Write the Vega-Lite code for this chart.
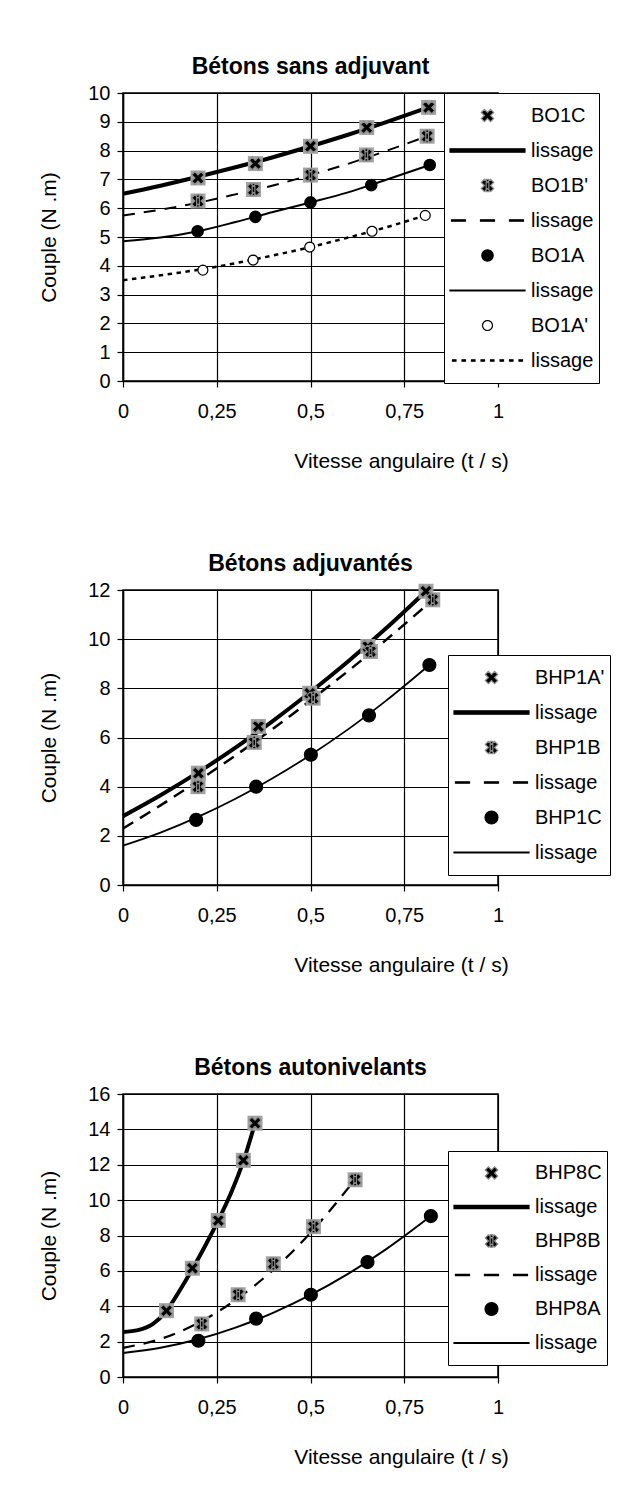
{
  "$schema": "https://vega.github.io/schema/vega-lite/v6.json",
  "padding": {"left": 38, "top": 55, "right": 5, "bottom": 5},
  "background": "white",
  "spacing": 80,
  "config": {
    "font": "Liberation Sans",
    "view": {"stroke": "black", "strokeWidth": 1.5},
    "title": {"font": "Liberation Sans", "fontSize": 23, "fontWeight": "bold", "color": "black", "offset": 4, "anchor": "middle"},
    "axis": {"labelFont": "Liberation Sans", "titleFont": "Liberation Sans", "labelFontSize": 20, "titleFontSize": 21, "titleFontWeight": "normal", "labelColor": "black", "titleColor": "black", "domainColor": "black", "tickColor": "black", "gridColor": "black", "gridOpacity": 1, "gridWidth": 1.2, "domainWidth": 1.5, "tickWidth": 1.2, "tickSize": 6, "labelFlush": false, "labelOverlap": false},
    "axisX": {"labelPadding": 14, "titleX": 278, "titleY": 69},
    "axisY": {"labelPadding": 7, "titlePadding": 28},
    "legend": {"labelFont": "Liberation Sans", "labelFontSize": 20, "labelColor": "black", "labelOffset": 5, "rowPadding": 0, "padding": 5, "strokeColor": "black", "labelLimit": 300, "symbolSize": 5625, "symbolStrokeWidth": 1.2}
  },
  "datasets": {
    "pts1": [
      {"k": "BO1C", "x": 0.20, "y": 7.05}, {"k": "BO1C", "x": 0.353, "y": 7.55}, {"k": "BO1C", "x": 0.50, "y": 8.15}, {"k": "BO1C", "x": 0.65, "y": 8.8}, {"k": "BO1C", "x": 0.815, "y": 9.5},
      {"k": "BO1B'", "x": 0.20, "y": 6.25}, {"k": "BO1B'", "x": 0.348, "y": 6.65}, {"k": "BO1B'", "x": 0.50, "y": 7.15}, {"k": "BO1B'", "x": 0.649, "y": 7.85}, {"k": "BO1B'", "x": 0.811, "y": 8.5},
      {"k": "BO1A", "x": 0.199, "y": 5.2}, {"k": "BO1A", "x": 0.353, "y": 5.7}, {"k": "BO1A", "x": 0.50, "y": 6.2}, {"k": "BO1A", "x": 0.662, "y": 6.8}, {"k": "BO1A", "x": 0.818, "y": 7.5},
      {"k": "BO1A'", "x": 0.213, "y": 3.85}, {"k": "BO1A'", "x": 0.347, "y": 4.2}, {"k": "BO1A'", "x": 0.498, "y": 4.65}, {"k": "BO1A'", "x": 0.664, "y": 5.2}, {"k": "BO1A'", "x": 0.806, "y": 5.75}
    ],
    "fit1": [
      {"k": "lissage1", "x": 0, "y": 6.5}, {"k": "lissage1", "x": 0.1, "y": 6.78}, {"k": "lissage1", "x": 0.2, "y": 7.09}, {"k": "lissage1", "x": 0.3, "y": 7.42}, {"k": "lissage1", "x": 0.4, "y": 7.77}, {"k": "lissage1", "x": 0.5, "y": 8.15}, {"k": "lissage1", "x": 0.6, "y": 8.55}, {"k": "lissage1", "x": 0.7, "y": 8.98}, {"k": "lissage1", "x": 0.815, "y": 9.5},
      {"k": "lissage2", "x": 0, "y": 5.75}, {"k": "lissage2", "x": 0.1, "y": 5.95}, {"k": "lissage2", "x": 0.2, "y": 6.19}, {"k": "lissage2", "x": 0.3, "y": 6.48}, {"k": "lissage2", "x": 0.4, "y": 6.79}, {"k": "lissage2", "x": 0.5, "y": 7.15}, {"k": "lissage2", "x": 0.6, "y": 7.54}, {"k": "lissage2", "x": 0.7, "y": 7.98}, {"k": "lissage2", "x": 0.811, "y": 8.5},
      {"k": "lissage3", "x": 0, "y": 4.85}, {"k": "lissage3", "x": 0.1, "y": 4.98}, {"k": "lissage3", "x": 0.2, "y": 5.2}, {"k": "lissage3", "x": 0.3, "y": 5.52}, {"k": "lissage3", "x": 0.4, "y": 5.87}, {"k": "lissage3", "x": 0.5, "y": 6.2}, {"k": "lissage3", "x": 0.6, "y": 6.55}, {"k": "lissage3", "x": 0.7, "y": 6.98}, {"k": "lissage3", "x": 0.818, "y": 7.5},
      {"k": "lissage4", "x": 0, "y": 3.5}, {"k": "lissage4", "x": 0.1, "y": 3.67}, {"k": "lissage4", "x": 0.2, "y": 3.86}, {"k": "lissage4", "x": 0.3, "y": 4.09}, {"k": "lissage4", "x": 0.4, "y": 4.36}, {"k": "lissage4", "x": 0.5, "y": 4.65}, {"k": "lissage4", "x": 0.6, "y": 4.98}, {"k": "lissage4", "x": 0.7, "y": 5.33}, {"k": "lissage4", "x": 0.806, "y": 5.75}
    ],
    "pts2": [
      {"k": "BHP1A'", "x": 0.201, "y": 4.55}, {"k": "BHP1A'", "x": 0.361, "y": 6.45}, {"k": "BHP1A'", "x": 0.498, "y": 7.8}, {"k": "BHP1A'", "x": 0.653, "y": 9.7}, {"k": "BHP1A'", "x": 0.808, "y": 11.95},
      {"k": "BHP1B", "x": 0.20, "y": 4.0}, {"k": "BHP1B", "x": 0.35, "y": 5.8}, {"k": "BHP1B", "x": 0.507, "y": 7.6}, {"k": "BHP1B", "x": 0.66, "y": 9.5}, {"k": "BHP1B", "x": 0.826, "y": 11.6},
      {"k": "BHP1C", "x": 0.195, "y": 2.65}, {"k": "BHP1C", "x": 0.355, "y": 4.0}, {"k": "BHP1C", "x": 0.501, "y": 5.3}, {"k": "BHP1C", "x": 0.656, "y": 6.9}, {"k": "BHP1C", "x": 0.817, "y": 8.95}
    ],
    "fit2": [
      {"k": "lissage1", "x": 0, "y": 2.8}, {"k": "lissage1", "x": 0.1, "y": 3.65}, {"k": "lissage1", "x": 0.2, "y": 4.58}, {"k": "lissage1", "x": 0.3, "y": 5.59}, {"k": "lissage1", "x": 0.4, "y": 6.68}, {"k": "lissage1", "x": 0.5, "y": 7.85}, {"k": "lissage1", "x": 0.6, "y": 9.09}, {"k": "lissage1", "x": 0.7, "y": 10.42}, {"k": "lissage1", "x": 0.808, "y": 11.95},
      {"k": "lissage2", "x": 0, "y": 2.3}, {"k": "lissage2", "x": 0.1, "y": 3.24}, {"k": "lissage2", "x": 0.2, "y": 4.23}, {"k": "lissage2", "x": 0.3, "y": 5.27}, {"k": "lissage2", "x": 0.4, "y": 6.36}, {"k": "lissage2", "x": 0.5, "y": 7.51}, {"k": "lissage2", "x": 0.6, "y": 8.7}, {"k": "lissage2", "x": 0.7, "y": 9.95}, {"k": "lissage2", "x": 0.826, "y": 11.6},
      {"k": "lissage3", "x": 0, "y": 1.6}, {"k": "lissage3", "x": 0.1, "y": 2.13}, {"k": "lissage3", "x": 0.2, "y": 2.77}, {"k": "lissage3", "x": 0.3, "y": 3.51}, {"k": "lissage3", "x": 0.4, "y": 4.35}, {"k": "lissage3", "x": 0.5, "y": 5.29}, {"k": "lissage3", "x": 0.6, "y": 6.33}, {"k": "lissage3", "x": 0.7, "y": 7.48}, {"k": "lissage3", "x": 0.817, "y": 8.95}
    ],
    "pts3": [
      {"k": "BHP8C", "x": 0.116, "y": 3.75}, {"k": "BHP8C", "x": 0.185, "y": 6.15}, {"k": "BHP8C", "x": 0.254, "y": 8.85}, {"k": "BHP8C", "x": 0.321, "y": 12.25}, {"k": "BHP8C", "x": 0.352, "y": 14.35},
      {"k": "BHP8B", "x": 0.21, "y": 3.0}, {"k": "BHP8B", "x": 0.307, "y": 4.65}, {"k": "BHP8B", "x": 0.401, "y": 6.4}, {"k": "BHP8B", "x": 0.508, "y": 8.5}, {"k": "BHP8B", "x": 0.619, "y": 11.15},
      {"k": "BHP8A", "x": 0.201, "y": 2.05}, {"k": "BHP8A", "x": 0.355, "y": 3.3}, {"k": "BHP8A", "x": 0.501, "y": 4.65}, {"k": "BHP8A", "x": 0.652, "y": 6.5}, {"k": "BHP8A", "x": 0.821, "y": 9.1}
    ],
    "fit3": [
      {"k": "lissage1", "x": 0, "y": 2.55}, {"k": "lissage1", "x": 0.04, "y": 2.65}, {"k": "lissage1", "x": 0.08, "y": 3.0}, {"k": "lissage1", "x": 0.116, "y": 3.75}, {"k": "lissage1", "x": 0.15, "y": 4.85}, {"k": "lissage1", "x": 0.185, "y": 6.1}, {"k": "lissage1", "x": 0.22, "y": 7.45}, {"k": "lissage1", "x": 0.254, "y": 8.85}, {"k": "lissage1", "x": 0.29, "y": 10.5}, {"k": "lissage1", "x": 0.321, "y": 12.2}, {"k": "lissage1", "x": 0.352, "y": 14.35},
      {"k": "lissage2", "x": 0, "y": 1.65}, {"k": "lissage2", "x": 0.1, "y": 2.15}, {"k": "lissage2", "x": 0.2, "y": 3.05}, {"k": "lissage2", "x": 0.3, "y": 4.35}, {"k": "lissage2", "x": 0.4, "y": 6.05}, {"k": "lissage2", "x": 0.5, "y": 8.15}, {"k": "lissage2", "x": 0.619, "y": 11.17},
      {"k": "lissage3", "x": 0, "y": 1.35}, {"k": "lissage3", "x": 0.1, "y": 1.65}, {"k": "lissage3", "x": 0.2, "y": 2.13}, {"k": "lissage3", "x": 0.3, "y": 2.79}, {"k": "lissage3", "x": 0.4, "y": 3.63}, {"k": "lissage3", "x": 0.5, "y": 4.64}, {"k": "lissage3", "x": 0.6, "y": 5.83}, {"k": "lissage3", "x": 0.7, "y": 7.2}, {"k": "lissage3", "x": 0.821, "y": 9.1}
    ]
  },
  "resolve": {"scale": {"shape": "independent", "fill": "independent", "stroke": "independent"}},
  "vconcat": [
    {
      "width": 375, "height": 288,
      "title": "Bétons sans adjuvant",
      "encoding": {
        "x": {"field": "x", "type": "quantitative", "scale": {"domain": [0, 1], "nice": false}, "axis": {"values": [0, 0.25, 0.5, 0.75, 1], "title": "Vitesse angulaire (t / s)", "labelExpr": "replace(toString(datum.value),'.',',')"}},
        "y": {"field": "y", "type": "quantitative", "scale": {"domain": [0, 10], "nice": false}, "axis": {"values": [0, 1, 2, 3, 4, 5, 6, 7, 8, 9, 10], "title": "Couple (N .m)"}}
      },
      "layer": [
        {"data": {"name": "fit1"}, "transform": [{"filter": "datum.k==='lissage1'"}], "mark": {"type": "line", "color": "black", "strokeWidth": 4, "interpolate": "monotone"}},
        {"data": {"name": "fit1"}, "transform": [{"filter": "datum.k==='lissage2'"}], "mark": {"type": "line", "color": "black", "strokeWidth": 2, "strokeDash": [12, 9], "interpolate": "monotone"}},
        {"data": {"name": "fit1"}, "transform": [{"filter": "datum.k==='lissage3'"}], "mark": {"type": "line", "color": "black", "strokeWidth": 2, "interpolate": "monotone"}},
        {"data": {"name": "fit1"}, "transform": [{"filter": "datum.k==='lissage4'"}], "mark": {"type": "line", "color": "black", "strokeWidth": 2.5, "strokeDash": [4.5, 4.5], "interpolate": "monotone"}},
        {"data": {"name": "pts1"}, "transform": [{"filter": {"field": "k", "oneOf": ["BO1C", "BO1B'"]}}], "mark": {"type": "point", "shape": "square", "filled": true, "color": "#a3a3a3", "size": 225, "opacity": 1}},
        {"data": {"name": "pts1"}, "mark": {"type": "point", "filled": true, "opacity": 1, "size": 5625, "strokeWidth": 1.2},
         "encoding": {
           "shape": {"field": "k", "type": "nominal",
             "scale": {"domain": ["BO1C", "lissage1", "BO1B'", "lissage2", "BO1A", "lissage3", "BO1A'", "lissage4"],
                       "range": [
                         "M-0.165,-0.0825L-0.0825,-0.165L0,-0.0825L0.0825,-0.165L0.165,-0.0825L0.0825,0L0.165,0.0825L0.0825,0.165L0,0.0825L-0.0825,0.165L-0.165,0.0825L-0.0825,0Z",
                         "M-1,-0.044L1,-0.044L1,0.044L-1,0.044Z",
                         "M-0.165,-0.0825L-0.0825,-0.165L0,-0.0825L0.0825,-0.165L0.165,-0.0825L0.0825,0L0.165,0.0825L0.0825,0.165L0,0.0825L-0.0825,0.165L-0.165,0.0825L-0.0825,0ZM-0.036,-0.165L0.036,-0.165L0.036,0.165L-0.036,0.165Z",
                         "M-0.96,-0.017L-0.587,-0.017L-0.587,0.017L-0.96,0.017ZM-0.187,-0.017L0.187,-0.017L0.187,0.017L-0.187,0.017ZM0.587,-0.017L0.96,-0.017L0.96,0.017L0.587,0.017Z",
                         "M0.152,0L0.1404,0.0582L0.1075,0.1075L0.0582,0.1404L0,0.152L-0.0582,0.1404L-0.1075,0.1075L-0.1404,0.0582L-0.152,0L-0.1404,-0.0582L-0.1075,-0.1075L-0.0582,-0.1404L0,-0.152L0.0582,-0.1404L0.1075,-0.1075L0.1404,-0.0582Z",
                         "M-1,-0.012L1,-0.012L1,0.012L-1,0.012Z",
                         "M0.133,0L0.1229,0.0509L0.094,0.094L0.0509,0.1229L0,0.133L-0.0509,0.1229L-0.094,0.094L-0.1229,0.0509L-0.133,0L-0.1229,-0.0509L-0.094,-0.094L-0.0509,-0.1229L0,-0.133L0.0509,-0.1229L0.094,-0.094L0.1229,-0.0509Z",
                         "M-0.933,-0.017L-0.84,-0.017L-0.84,0.017L-0.933,0.017ZM-0.68,-0.017L-0.587,-0.017L-0.587,0.017L-0.68,0.017ZM-0.427,-0.017L-0.333,-0.017L-0.333,0.017L-0.427,0.017ZM-0.173,-0.017L-0.08,-0.017L-0.08,0.017L-0.173,0.017ZM0.08,-0.017L0.173,-0.017L0.173,0.017L0.08,0.017ZM0.333,-0.017L0.427,-0.017L0.427,0.017L0.333,0.017ZM0.587,-0.017L0.68,-0.017L0.68,0.017L0.587,0.017ZM0.84,-0.017L0.933,-0.017L0.933,0.017L0.84,0.017Z"
                       ]},
             "legend": {"orient": "none", "legendX": 321, "legendY": 0, "title": null, "clipHeight": 35, "fillColor": "white",
               "labelExpr": "(indexof(datum.label,'lissage')===0 ? 'lissage' : datum.label) + '\u00a0\u00a0\u00a0\u00a0'"}},
           "fill": {"field": "k", "type": "nominal", "scale": {"domain": ["BO1C", "lissage1", "BO1B'", "lissage2", "BO1A", "lissage3", "BO1A'", "lissage4"], "range": ["black", "black", "black", "black", "black", "black", "white", "black"]}},
           "stroke": {"field": "k", "type": "nominal", "scale": {"domain": ["BO1C", "lissage1", "BO1B'", "lissage2", "BO1A", "lissage3", "BO1A'", "lissage4"], "range": ["#8c8c8c", "black", "#8c8c8c", "black", "black", "black", "black", "black"]}}
         }}
      ]
    },
    {
      "width": 375, "height": 295,
      "title": "Bétons adjuvantés",
      "encoding": {
        "x": {"field": "x", "type": "quantitative", "scale": {"domain": [0, 1], "nice": false}, "axis": {"values": [0, 0.25, 0.5, 0.75, 1], "title": "Vitesse angulaire (t / s)", "labelExpr": "replace(toString(datum.value),'.',',')"}},
        "y": {"field": "y", "type": "quantitative", "scale": {"domain": [0, 12], "nice": false}, "axis": {"values": [0, 2, 4, 6, 8, 10, 12], "title": "Couple (N .m)"}}
      },
      "layer": [
        {"data": {"name": "fit2"}, "transform": [{"filter": "datum.k==='lissage1'"}], "mark": {"type": "line", "color": "black", "strokeWidth": 4, "interpolate": "monotone"}},
        {"data": {"name": "fit2"}, "transform": [{"filter": "datum.k==='lissage2'"}], "mark": {"type": "line", "color": "black", "strokeWidth": 2.5, "strokeDash": [12, 8], "interpolate": "monotone"}},
        {"data": {"name": "fit2"}, "transform": [{"filter": "datum.k==='lissage3'"}], "mark": {"type": "line", "color": "black", "strokeWidth": 1.8, "interpolate": "monotone"}},
        {"data": {"name": "pts2"}, "transform": [{"filter": {"field": "k", "oneOf": ["BHP1A'", "BHP1B"]}}], "mark": {"type": "point", "shape": "square", "filled": true, "color": "#a3a3a3", "size": 225, "opacity": 1}},
        {"data": {"name": "pts2"}, "mark": {"type": "point", "filled": true, "opacity": 1, "size": 5625, "strokeWidth": 1.2},
         "encoding": {
           "shape": {"field": "k", "type": "nominal",
             "scale": {"domain": ["BHP1A'", "lissage1", "BHP1B", "lissage2", "BHP1C", "lissage3"],
                       "range": [
                         "M-0.165,-0.0825L-0.0825,-0.165L0,-0.0825L0.0825,-0.165L0.165,-0.0825L0.0825,0L0.165,0.0825L0.0825,0.165L0,0.0825L-0.0825,0.165L-0.165,0.0825L-0.0825,0Z",
                         "M-1,-0.044L1,-0.044L1,0.044L-1,0.044Z",
                         "M-0.165,-0.0825L-0.0825,-0.165L0,-0.0825L0.0825,-0.165L0.165,-0.0825L0.0825,0L0.165,0.0825L0.0825,0.165L0,0.0825L-0.0825,0.165L-0.165,0.0825L-0.0825,0ZM-0.036,-0.165L0.036,-0.165L0.036,0.165L-0.036,0.165Z",
                         "M-0.96,-0.017L-0.587,-0.017L-0.587,0.017L-0.96,0.017ZM-0.187,-0.017L0.187,-0.017L0.187,0.017L-0.187,0.017ZM0.587,-0.017L0.96,-0.017L0.96,0.017L0.587,0.017Z",
                         "M0.173,0L0.1598,0.0662L0.1223,0.1223L0.0662,0.1598L0,0.173L-0.0662,0.1598L-0.1223,0.1223L-0.1598,0.0662L-0.173,0L-0.1598,-0.0662L-0.1223,-0.1223L-0.0662,-0.1598L0,-0.173L0.0662,-0.1598L0.1223,-0.1223L0.1598,-0.0662Z",
                         "M-1,-0.012L1,-0.012L1,0.012L-1,0.012Z"
                       ]},
             "legend": {"orient": "none", "legendX": 325, "legendY": 65, "title": null, "clipHeight": 35, "fillColor": "white",
               "labelExpr": "(indexof(datum.label,'lissage')===0 ? 'lissage' : datum.label) + '\u00a0\u00a0'"}},
           "fill": {"field": "k", "type": "nominal", "scale": {"domain": ["BHP1A'", "lissage1", "BHP1B", "lissage2", "BHP1C", "lissage3"], "range": ["black", "black", "black", "black", "black", "black"]}},
           "stroke": {"field": "k", "type": "nominal", "scale": {"domain": ["BHP1A'", "lissage1", "BHP1B", "lissage2", "BHP1C", "lissage3"], "range": ["#8c8c8c", "black", "#8c8c8c", "black", "black", "black"]}}
         }}
      ]
    },
    {
      "width": 375, "height": 283,
      "title": "Bétons autonivelants",
      "encoding": {
        "x": {"field": "x", "type": "quantitative", "scale": {"domain": [0, 1], "nice": false}, "axis": {"values": [0, 0.25, 0.5, 0.75, 1], "title": "Vitesse angulaire (t / s)", "labelExpr": "replace(toString(datum.value),'.',',')"}},
        "y": {"field": "y", "type": "quantitative", "scale": {"domain": [0, 16], "nice": false}, "axis": {"values": [0, 2, 4, 6, 8, 10, 12, 14, 16], "title": "Couple (N .m)"}}
      },
      "layer": [
        {"data": {"name": "fit3"}, "transform": [{"filter": "datum.k==='lissage1'"}], "mark": {"type": "line", "color": "black", "strokeWidth": 4, "interpolate": "monotone"}},
        {"data": {"name": "fit3"}, "transform": [{"filter": "datum.k==='lissage2'"}], "mark": {"type": "line", "color": "black", "strokeWidth": 2.2, "strokeDash": [12, 9], "interpolate": "monotone"}},
        {"data": {"name": "fit3"}, "transform": [{"filter": "datum.k==='lissage3'"}], "mark": {"type": "line", "color": "black", "strokeWidth": 2, "interpolate": "monotone"}},
        {"data": {"name": "pts3"}, "transform": [{"filter": {"field": "k", "oneOf": ["BHP8C", "BHP8B"]}}], "mark": {"type": "point", "shape": "square", "filled": true, "color": "#a3a3a3", "size": 225, "opacity": 1}},
        {"data": {"name": "pts3"}, "mark": {"type": "point", "filled": true, "opacity": 1, "size": 5625, "strokeWidth": 1.2},
         "encoding": {
           "shape": {"field": "k", "type": "nominal",
             "scale": {"domain": ["BHP8C", "lissage1", "BHP8B", "lissage2", "BHP8A", "lissage3"],
                       "range": [
                         "M-0.165,-0.0825L-0.0825,-0.165L0,-0.0825L0.0825,-0.165L0.165,-0.0825L0.0825,0L0.165,0.0825L0.0825,0.165L0,0.0825L-0.0825,0.165L-0.165,0.0825L-0.0825,0Z",
                         "M-1,-0.044L1,-0.044L1,0.044L-1,0.044Z",
                         "M-0.165,-0.0825L-0.0825,-0.165L0,-0.0825L0.0825,-0.165L0.165,-0.0825L0.0825,0L0.165,0.0825L0.0825,0.165L0,0.0825L-0.0825,0.165L-0.165,0.0825L-0.0825,0ZM-0.036,-0.165L0.036,-0.165L0.036,0.165L-0.036,0.165Z",
                         "M-0.96,-0.017L-0.587,-0.017L-0.587,0.017L-0.96,0.017ZM-0.187,-0.017L0.187,-0.017L0.187,0.017L-0.187,0.017ZM0.587,-0.017L0.96,-0.017L0.96,0.017L0.587,0.017Z",
                         "M0.173,0L0.1598,0.0662L0.1223,0.1223L0.0662,0.1598L0,0.173L-0.0662,0.1598L-0.1223,0.1223L-0.1598,0.0662L-0.173,0L-0.1598,-0.0662L-0.1223,-0.1223L-0.0662,-0.1598L0,-0.173L0.0662,-0.1598L0.1223,-0.1223L0.1598,-0.0662Z",
                         "M-1,-0.012L1,-0.012L1,0.012L-1,0.012Z"
                       ]},
             "legend": {"orient": "none", "legendX": 325, "legendY": 57, "title": null, "clipHeight": 34, "fillColor": "white",
               "labelExpr": "(indexof(datum.label,'lissage')===0 ? 'lissage' : datum.label) + '\u00a0\u00a0'"}},
           "fill": {"field": "k", "type": "nominal", "scale": {"domain": ["BHP8C", "lissage1", "BHP8B", "lissage2", "BHP8A", "lissage3"], "range": ["black", "black", "black", "black", "black", "black"]}},
           "stroke": {"field": "k", "type": "nominal", "scale": {"domain": ["BHP8C", "lissage1", "BHP8B", "lissage2", "BHP8A", "lissage3"], "range": ["#8c8c8c", "black", "#8c8c8c", "black", "black", "black"]}}
         }}
      ]
    }
  ]
}
